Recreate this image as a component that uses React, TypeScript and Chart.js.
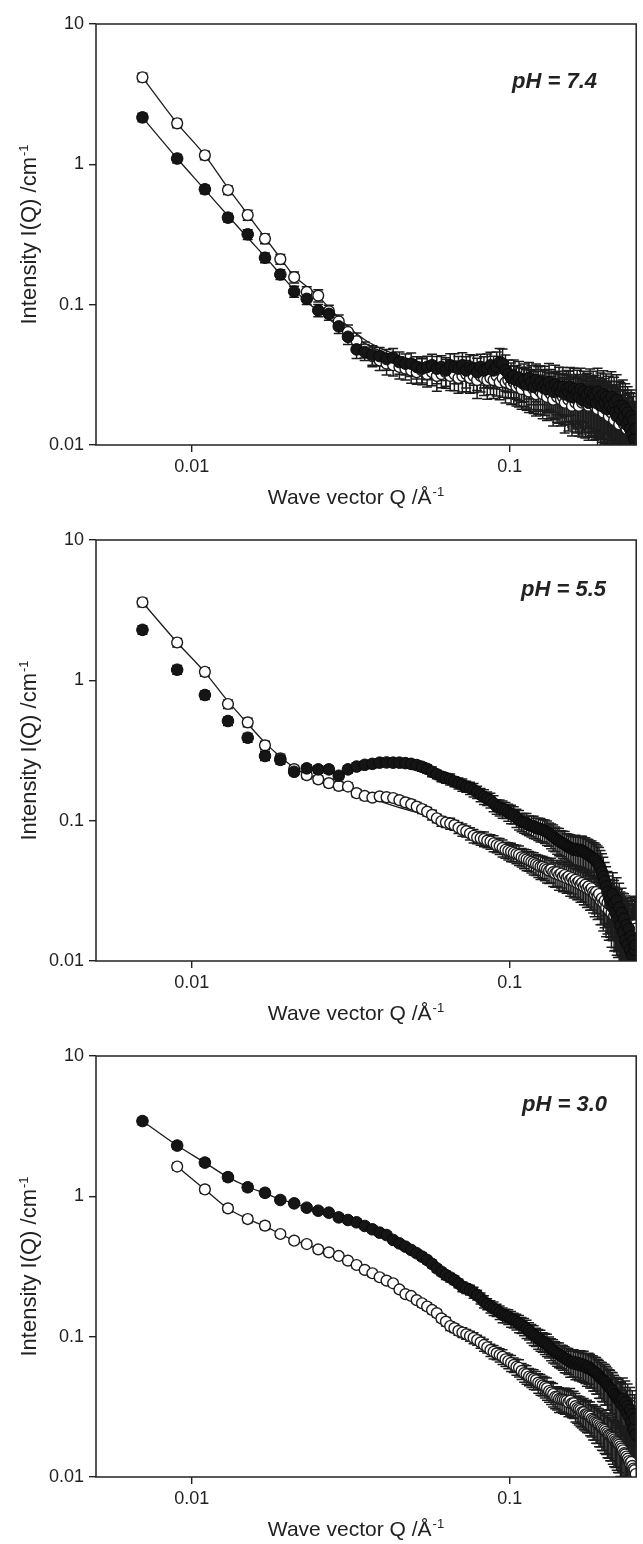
import React, { useEffect, useRef } from "react";
import { Chart, registerables } from "chart.js";

Chart.register(...registerables);

const FONT = "'Liberation Sans', Arial, Helvetica, sans-serif";
const INK = "#1c1c1c";

// ---------- axis / labels ----------
const X_TICKS = [0.01, 0.1];
const Y_TICKS = [0.01, 0.1, 1, 10];
const X_MIN = 0.005;
const X_MAX = 0.25;
const Y_MIN = 0.01;
const Y_MAX = 10;
const PH_LABELS = ["pH = 7.4", "pH = 5.5", "pH = 3.0"];
const X_TITLE = "Wave vector Q /Å";
const X_TITLE_SUP = "-1";
const Y_TITLE = "Intensity I(Q) /cm";
const Y_TITLE_SUP = "-1";

// ---------- wave vector Q (Å^-1) ----------
const Q = [
  0.007, 0.009, 0.011, 0.013, 0.015, 0.017, 0.019, 0.021, 0.023, 0.025,
  0.027, 0.029, 0.031, 0.033, 0.035, 0.037, 0.039, 0.041, 0.043, 0.045,
  0.047, 0.049, 0.051, 0.053, 0.055, 0.057, 0.059, 0.061, 0.063, 0.065,
  0.067, 0.069, 0.071, 0.073, 0.075, 0.077, 0.079, 0.081, 0.083, 0.085,
  0.087, 0.089, 0.091, 0.093, 0.095, 0.097, 0.099, 0.101, 0.103, 0.105,
  0.107, 0.109, 0.111, 0.113, 0.115, 0.117, 0.119, 0.121, 0.123, 0.125,
  0.127, 0.129, 0.131, 0.133, 0.135, 0.137, 0.139, 0.141, 0.143, 0.145,
  0.147, 0.149, 0.151, 0.153, 0.155, 0.157, 0.159, 0.161, 0.163, 0.165,
  0.167, 0.169, 0.171, 0.173, 0.175, 0.177, 0.179, 0.181, 0.183, 0.185,
  0.187, 0.189, 0.191, 0.193, 0.195, 0.197, 0.199, 0.201, 0.203, 0.205,
  0.207, 0.209, 0.211, 0.213, 0.215, 0.217, 0.219, 0.221, 0.223, 0.225,
  0.227, 0.229, 0.231, 0.233, 0.235, 0.237, 0.239, 0.241, 0.243, 0.245,
  0.247, 0.249,
];

// ---------- pH 7.4 ----------
const PH74_FILLED = [
  2.16, 1.10, 0.664, 0.417, 0.317, 0.216, 0.164, 0.124, 0.110, 0.091,
  0.086, 0.070, 0.059, 0.048, 0.046, 0.044, 0.043, 0.041, 0.042, 0.039,
  0.038, 0.038, 0.036, 0.035, 0.036, 0.037, 0.035, 0.036, 0.034, 0.037,
  0.036, 0.035, 0.037, 0.034, 0.036, 0.035, 0.033, 0.036, 0.034, 0.035,
  0.037, 0.034, 0.036, 0.039, 0.038, 0.034, 0.032, 0.030, 0.031, 0.029,
  0.030, 0.028, 0.029, 0.027, 0.030, 0.028, 0.026, 0.029, 0.027, 0.028,
  0.026, 0.027, 0.025, 0.028, 0.026, 0.024, 0.027, 0.025, 0.026, 0.024,
  0.026, 0.023, 0.025, 0.024, 0.026, 0.022, 0.025, 0.023, 0.024, 0.022,
  0.025, 0.021, 0.024, 0.022, 0.023, 0.020, 0.024, 0.021, 0.023, 0.022,
  0.020, 0.024, 0.021, 0.022, 0.019, 0.023, 0.020, 0.022, 0.018, 0.021,
  0.019, 0.022, 0.018, 0.020, 0.017, 0.021, 0.016, 0.019, 0.018, 0.015,
  0.019, 0.016, 0.018, 0.014, 0.017, 0.015, 0.013, 0.016, 0.012, 0.015,
  0.011, 0.013,
];
const PH74_OPEN = [
  4.17, 1.96, 1.16, 0.656, 0.435, 0.295, 0.211, 0.157, 0.123, 0.116,
  0.090, 0.076, 0.064, 0.055, 0.048, 0.043, 0.040, 0.038, 0.037, 0.036,
  0.035, 0.034, 0.033, 0.034, 0.032, 0.033, 0.031, 0.032, 0.033, 0.031,
  0.032, 0.030, 0.031, 0.032, 0.030, 0.031, 0.029, 0.031, 0.030, 0.029,
  0.030, 0.029, 0.031, 0.028, 0.030, 0.028, 0.029, 0.027, 0.028, 0.026,
  0.027, 0.025, 0.027, 0.026, 0.024, 0.026, 0.025, 0.023, 0.025, 0.024,
  0.023, 0.025, 0.022, 0.024, 0.023, 0.021, 0.024, 0.022, 0.023, 0.021,
  0.022, 0.020, 0.023, 0.021, 0.022, 0.019, 0.022, 0.020, 0.021, 0.019,
  0.022, 0.020, 0.021, 0.020, 0.022, 0.019, 0.021, 0.020, 0.021, 0.019,
  0.020, 0.018, 0.020, 0.019, 0.020, 0.017, 0.019, 0.018, 0.019, 0.016,
  0.019, 0.017, 0.018, 0.015, 0.018, 0.016, 0.017, 0.014, 0.016, 0.015,
  0.016, 0.014, 0.015, 0.013, 0.016, 0.014, 0.015, 0.012, 0.014, 0.012,
  0.013, 0.0105,
];
const PH74_ERR = [
  0.07, 0.07, 0.07, 0.07, 0.08, 0.08, 0.08, 0.09, 0.09, 0.10,
  0.10, 0.11, 0.12, 0.14, 0.13, 0.16, 0.15, 0.17, 0.16, 0.18,
  0.17, 0.19, 0.18, 0.21, 0.19, 0.20, 0.22, 0.20, 0.23, 0.21,
  0.24, 0.22, 0.23, 0.25, 0.22, 0.24, 0.26, 0.23, 0.25, 0.27,
  0.24, 0.26, 0.28, 0.25, 0.27, 0.29, 0.26, 0.28, 0.30, 0.27,
  0.31, 0.28, 0.30, 0.32, 0.29, 0.31, 0.33, 0.30, 0.34, 0.31,
  0.33, 0.35, 0.32, 0.36, 0.33, 0.35, 0.37, 0.34, 0.38, 0.35,
  0.37, 0.39, 0.36, 0.40, 0.37, 0.39, 0.41, 0.38, 0.42, 0.39,
  0.41, 0.43, 0.40, 0.44, 0.41, 0.43, 0.45, 0.42, 0.46, 0.43,
  0.45, 0.47, 0.44, 0.48, 0.45, 0.47, 0.49, 0.46, 0.50, 0.47,
  0.49, 0.51, 0.48, 0.52, 0.49, 0.51, 0.53, 0.50, 0.54, 0.51,
  0.53, 0.55, 0.52, 0.56, 0.53, 0.55, 0.57, 0.54, 0.58, 0.55,
  0.56, 0.57,
];
const PH74_FIT_Q = [
  0.007, 0.009, 0.011, 0.013, 0.015, 0.017, 0.019, 0.021, 0.023, 0.025,
  0.027, 0.030, 0.033, 0.036, 0.040, 0.045, 0.050, 0.060, 0.070, 0.080,
  0.100, 0.120, 0.150, 0.200, 0.249,
];
const PH74_FIT_OPEN = [
  4.17, 1.96, 1.16, 0.68, 0.44, 0.30, 0.215, 0.16, 0.135, 0.115,
  0.095, 0.075, 0.062, 0.054, 0.048, 0.043, 0.039, 0.033, 0.029, 0.027,
  0.024, 0.0225, 0.021, 0.020, 0.019,
];
const PH74_FIT_FILLED = [
  2.16, 1.10, 0.66, 0.43, 0.30, 0.22, 0.165, 0.128, 0.105, 0.090,
  0.079, 0.066, 0.057, 0.051, 0.046, 0.042, 0.038, 0.033, 0.030, 0.028,
  0.025, 0.023, 0.0215, 0.0205, 0.0195,
];

// ---------- pH 5.5 ----------
const PH55_FILLED = [
  2.29, 1.19, 0.786, 0.513, 0.390, 0.289, 0.271, 0.223, 0.236, 0.232,
  0.232, 0.209, 0.232, 0.243, 0.250, 0.254, 0.259, 0.260, 0.259, 0.259,
  0.257, 0.254, 0.249, 0.242, 0.234, 0.223, 0.214, 0.206, 0.201, 0.197,
  0.190, 0.185, 0.180, 0.175, 0.171, 0.166, 0.160, 0.153, 0.148, 0.144,
  0.140, 0.133, 0.126, 0.124, 0.121, 0.119, 0.115, 0.112, 0.110, 0.105,
  0.102, 0.098, 0.097, 0.096, 0.093, 0.092, 0.091, 0.089, 0.088, 0.087,
  0.086, 0.085, 0.083, 0.081, 0.079, 0.077, 0.075, 0.073, 0.072, 0.070,
  0.069, 0.068, 0.066, 0.065, 0.064, 0.063, 0.062, 0.063, 0.062, 0.061,
  0.062, 0.061, 0.060, 0.059, 0.058, 0.057, 0.056, 0.055, 0.054, 0.053,
  0.052, 0.050, 0.048, 0.046, 0.043, 0.040, 0.037, 0.034, 0.031, 0.029,
  0.027, 0.025, 0.030, 0.026, 0.022, 0.027, 0.020, 0.024, 0.018, 0.022,
  0.016, 0.020, 0.014, 0.018, 0.013, 0.017, 0.012, 0.015, 0.011, 0.014,
  0.012, 0.013,
];
const PH55_OPEN = [
  3.60, 1.86, 1.15, 0.678, 0.502, 0.344, 0.278, 0.233, 0.211, 0.197,
  0.185, 0.177, 0.175, 0.157, 0.150, 0.146, 0.149, 0.147, 0.145, 0.140,
  0.135, 0.131, 0.126, 0.121, 0.116, 0.110, 0.104, 0.099, 0.097, 0.0955,
  0.093, 0.089, 0.086, 0.084, 0.081, 0.078, 0.076, 0.075, 0.074, 0.072,
  0.071, 0.069, 0.067, 0.066, 0.064, 0.062, 0.061, 0.060, 0.059, 0.058,
  0.057, 0.055, 0.054, 0.053, 0.052, 0.051, 0.050, 0.049, 0.048, 0.047,
  0.047, 0.046, 0.045, 0.044, 0.045, 0.043, 0.042, 0.043, 0.041, 0.042,
  0.040, 0.041, 0.039, 0.040, 0.038, 0.039, 0.037, 0.038, 0.036, 0.037,
  0.035, 0.036, 0.034, 0.035, 0.033, 0.034, 0.032, 0.033, 0.031, 0.030,
  0.031, 0.029, 0.030, 0.027, 0.028, 0.026, 0.027, 0.024, 0.026, 0.023,
  0.025, 0.022, 0.024, 0.021, 0.023, 0.020, 0.022, 0.019, 0.021, 0.018,
  0.020, 0.017, 0.019, 0.016, 0.018, 0.017, 0.016, 0.018, 0.017, 0.016,
  0.018, 0.017,
];
const PH55_ERR = [
  0.07, 0.07, 0.07, 0.07, 0.07, 0.07, 0.07, 0.06, 0.06, 0.06,
  0.06, 0.06, 0.06, 0.06, 0.06, 0.06, 0.06, 0.06, 0.06, 0.06,
  0.07, 0.07, 0.07, 0.07, 0.07, 0.08, 0.07, 0.08, 0.08, 0.09,
  0.08, 0.09, 0.10, 0.09, 0.10, 0.11, 0.10, 0.11, 0.12, 0.11,
  0.12, 0.13, 0.12, 0.13, 0.14, 0.13, 0.14, 0.15, 0.14, 0.15,
  0.16, 0.15, 0.16, 0.17, 0.16, 0.17, 0.18, 0.17, 0.18, 0.19,
  0.18, 0.19, 0.20, 0.19, 0.20, 0.21, 0.20, 0.21, 0.22, 0.21,
  0.22, 0.23, 0.22, 0.23, 0.24, 0.23, 0.24, 0.25, 0.24, 0.26,
  0.25, 0.27, 0.26, 0.28, 0.27, 0.29, 0.28, 0.30, 0.29, 0.31,
  0.30, 0.32, 0.34, 0.33, 0.35, 0.37, 0.36, 0.38, 0.40, 0.39,
  0.41, 0.43, 0.42, 0.44, 0.46, 0.45, 0.47, 0.49, 0.48, 0.50,
  0.52, 0.51, 0.53, 0.55, 0.54, 0.56, 0.58, 0.57, 0.59, 0.60,
  0.61, 0.62,
];
const PH55_FIT_Q = [
  0.007, 0.009, 0.011, 0.013, 0.015, 0.017, 0.019, 0.021, 0.023, 0.025,
  0.030, 0.035, 0.040, 0.045, 0.050, 0.055,
];
const PH55_FIT_OPEN = [
  3.60, 1.86, 1.14, 0.71, 0.49, 0.36, 0.285, 0.238, 0.213, 0.198,
  0.172, 0.150, 0.135, 0.124, 0.116, 0.109,
];

// ---------- pH 3.0 ----------
const PH30_FILLED = [
  3.44, 2.30, 1.74, 1.37, 1.16, 1.06, 0.942, 0.891, 0.830, 0.790,
  0.765, 0.708, 0.678, 0.653, 0.615, 0.582, 0.551, 0.530, 0.489, 0.462,
  0.438, 0.415, 0.393, 0.372, 0.352, 0.330, 0.307, 0.290, 0.275, 0.264,
  0.253, 0.240, 0.227, 0.221, 0.215, 0.206, 0.198, 0.188, 0.178, 0.171,
  0.164, 0.159, 0.155, 0.149, 0.143, 0.141, 0.139, 0.134, 0.131, 0.128,
  0.124, 0.121, 0.118, 0.114, 0.110, 0.106, 0.103, 0.100, 0.097, 0.095,
  0.092, 0.090, 0.088, 0.085, 0.082, 0.080, 0.078, 0.076, 0.075, 0.073,
  0.072, 0.070, 0.069, 0.068, 0.066, 0.065, 0.066, 0.064, 0.065, 0.063,
  0.064, 0.062, 0.063, 0.061, 0.060, 0.061, 0.059, 0.058, 0.057, 0.056,
  0.055, 0.054, 0.052, 0.051, 0.050, 0.049, 0.048, 0.047, 0.045, 0.044,
  0.043, 0.042, 0.041, 0.039, 0.038, 0.037, 0.036, 0.035, 0.034, 0.033,
  0.036, 0.031, 0.034, 0.029, 0.032, 0.027, 0.030, 0.025, 0.028, 0.022,
  0.026, 0.020,
];
const PH30_OPEN = [
  null, 1.63, 1.12, 0.821, 0.689, 0.618, 0.539, 0.483, 0.457, 0.419,
  0.399, 0.376, 0.348, 0.324, 0.299, 0.283, 0.265, 0.251, 0.240, 0.217,
  0.201, 0.195, 0.182, 0.173, 0.164, 0.155, 0.147, 0.135, 0.128, 0.119,
  0.115, 0.110, 0.107, 0.104, 0.101, 0.098, 0.0946, 0.091, 0.0873, 0.084,
  0.0804, 0.078, 0.076, 0.074, 0.072, 0.069, 0.067, 0.065, 0.063, 0.061,
  0.060, 0.057, 0.055, 0.054, 0.052, 0.051, 0.050, 0.049, 0.047, 0.046,
  0.045, 0.044, 0.043, 0.041, 0.040, 0.039, 0.0373, 0.037, 0.036, 0.0358,
  0.0356, 0.0354, 0.035, 0.034, 0.035, 0.0335, 0.0335, 0.032, 0.031, 0.0305,
  0.030, 0.029, 0.029, 0.028, 0.028, 0.0275, 0.027, 0.026, 0.0255, 0.025,
  0.0245, 0.0241, 0.0235, 0.023, 0.0225, 0.022, 0.0216, 0.021, 0.0205, 0.020,
  0.0198, 0.0194, 0.019, 0.0185, 0.018, 0.0177, 0.0174, 0.017, 0.0165, 0.016,
  0.0155, 0.0148, 0.0145, 0.014, 0.0135, 0.013, 0.0125, 0.0128, 0.012, 0.0115,
  0.0112, 0.0105,
];
const PH30_ERR = [
  0.06, 0.06, 0.06, 0.06, 0.06, 0.06, 0.05, 0.05, 0.05, 0.05,
  0.05, 0.05, 0.05, 0.05, 0.05, 0.05, 0.05, 0.05, 0.05, 0.05,
  0.05, 0.05, 0.05, 0.06, 0.06, 0.06, 0.06, 0.06, 0.07, 0.07,
  0.07, 0.07, 0.08, 0.08, 0.08, 0.09, 0.08, 0.09, 0.10, 0.09,
  0.10, 0.11, 0.10, 0.11, 0.12, 0.11, 0.12, 0.13, 0.12, 0.13,
  0.14, 0.13, 0.14, 0.15, 0.14, 0.15, 0.16, 0.15, 0.16, 0.17,
  0.16, 0.17, 0.18, 0.17, 0.18, 0.19, 0.18, 0.19, 0.20, 0.19,
  0.20, 0.21, 0.20, 0.21, 0.22, 0.21, 0.22, 0.23, 0.22, 0.23,
  0.24, 0.23, 0.25, 0.24, 0.26, 0.25, 0.27, 0.26, 0.28, 0.27,
  0.29, 0.28, 0.30, 0.29, 0.31, 0.30, 0.32, 0.31, 0.33, 0.32,
  0.34, 0.33, 0.35, 0.36, 0.35, 0.37, 0.38, 0.37, 0.39, 0.40,
  0.41, 0.40, 0.42, 0.43, 0.44, 0.43, 0.45, 0.46, 0.47, 0.46,
  0.48, 0.49,
];
const PH30_FIT_FILLED_Q = [
  0.007, 0.009, 0.011, 0.013, 0.015, 0.017, 0.019, 0.021, 0.023, 0.025,
  0.027, 0.030, 0.035, 0.040, 0.045, 0.050, 0.060, 0.070, 0.080, 0.090,
  0.100, 0.120, 0.150, 0.200, 0.249,
];
const PH30_FIT_FILLED = [
  3.44, 2.30, 1.74, 1.37, 1.17, 1.05, 0.95, 0.89, 0.83, 0.79,
  0.76, 0.70, 0.61, 0.54, 0.47, 0.40, 0.30, 0.235, 0.19, 0.158,
  0.138, 0.102, 0.072, 0.049, 0.034,
];
const PH30_FIT_OPEN_Q = [
  0.009, 0.011, 0.013, 0.015, 0.017, 0.019, 0.021, 0.023, 0.025, 0.027,
  0.030, 0.035, 0.040, 0.045, 0.050, 0.060, 0.070, 0.080, 0.090, 0.100,
  0.120, 0.150, 0.200, 0.249,
];
const PH30_FIT_OPEN = [
  1.63, 1.12, 0.82, 0.69, 0.61, 0.54, 0.485, 0.455, 0.42, 0.40,
  0.36, 0.30, 0.255, 0.22, 0.185, 0.14, 0.112, 0.094, 0.078, 0.067,
  0.049, 0.0355, 0.0215, 0.0125,
];

// ---------- panel assembly (layout separate from data) ----------
type Fit = { q: number[]; v: number[] };
type PanelDef = {
  label: string;
  filled: (number | null)[];
  open: (number | null)[];
  err: number[];
  fits: Fit[];
  height: number;
  labelRight: number;
  labelBase: number;
};

const PANELS: PanelDef[] = [
  {
    label: PH_LABELS[0],
    filled: PH74_FILLED,
    open: PH74_OPEN,
    err: PH74_ERR,
    fits: [
      { q: PH74_FIT_Q, v: PH74_FIT_OPEN },
      { q: PH74_FIT_Q, v: PH74_FIT_FILLED },
    ],
    height: 516,
    labelRight: 597,
    labelBase: 88,
  },
  {
    label: PH_LABELS[1],
    filled: PH55_FILLED,
    open: PH55_OPEN,
    err: PH55_ERR,
    fits: [{ q: PH55_FIT_Q, v: PH55_FIT_OPEN }],
    height: 516,
    labelRight: 606,
    labelBase: 80,
  },
  {
    label: PH_LABELS[2],
    filled: PH30_FILLED,
    open: PH30_OPEN,
    err: PH30_ERR,
    fits: [
      { q: PH30_FIT_FILLED_Q, v: PH30_FIT_FILLED },
      { q: PH30_FIT_OPEN_Q, v: PH30_FIT_OPEN },
    ],
    height: 512,
    labelRight: 607,
    labelBase: 79,
  },
];

const PLOT_BOTTOM = 445;
const AXIS_LEFT_WIDTH = 96;

function drawSup(
  ctx: CanvasRenderingContext2D,
  main: string,
  sup: string,
  cx: number,
  baseY: number,
  size: number,
  supSize: number,
  raise: number
) {
  ctx.font = `${size}px ${FONT}`;
  const w1 = ctx.measureText(main).width;
  ctx.font = `${supSize}px ${FONT}`;
  const w2 = ctx.measureText(sup).width;
  const gap = 1;
  const x0 = cx - (w1 + gap + w2) / 2;
  ctx.textAlign = "left";
  ctx.textBaseline = "alphabetic";
  ctx.font = `${size}px ${FONT}`;
  ctx.fillText(main, x0, baseY);
  ctx.font = `${supSize}px ${FONT}`;
  ctx.fillText(sup, x0 + w1 + gap, baseY - raise);
}

function buildConfig(p: PanelDef): any {
  const toPoints = (arr: (number | null)[]) =>
    Q.map((q, i) => (arr[i] == null ? null : { x: q, y: arr[i] as number, idx: i })).filter(
      (d) => d !== null
    );

  const datasets: any[] = [];
  p.fits.forEach((f) => {
    datasets.push({
      data: f.q.map((q, i) => ({ x: q, y: f.v[i] })),
      showLine: true,
      pointRadius: 0,
      borderColor: INK,
      borderWidth: 1.3,
      cubicInterpolationMode: "monotone",
      order: 3,
    });
  });
  datasets.push({
    data: toPoints(p.open),
    showLine: false,
    pointRadius: 5.4,
    pointBorderWidth: 1.4,
    pointBackgroundColor: "#ffffff",
    pointBorderColor: INK,
    errRel: p.err,
    order: 2,
  });
  datasets.push({
    data: toPoints(p.filled),
    showLine: false,
    pointRadius: 5.8,
    pointBorderWidth: 1,
    pointBackgroundColor: "#151515",
    pointBorderColor: "#0a0a0a",
    errRel: p.err,
    order: 1,
  });

  const errorBars = {
    id: "errorBars",
    beforeDatasetsDraw(chart: any) {
      const { ctx, chartArea, scales } = chart;
      const ys = scales.y;
      ctx.save();
      ctx.beginPath();
      ctx.rect(chartArea.left, chartArea.top, chartArea.right - chartArea.left, chartArea.bottom - chartArea.top);
      ctx.clip();
      ctx.strokeStyle = INK;
      ctx.lineWidth = 1.5;
      chart.data.datasets.forEach((ds: any, di: number) => {
        if (!ds.errRel) return;
        const meta = chart.getDatasetMeta(di);
        meta.data.forEach((el: any, i: number) => {
          const raw = ds.data[i];
          const r = ds.errRel[raw.idx];
          const yTop = ys.getPixelForValue(raw.y * (1 + r));
          const yBot = ys.getPixelForValue(raw.y * (1 - r));
          const x = el.x;
          ctx.beginPath();
          ctx.moveTo(x, yTop);
          ctx.lineTo(x, yBot);
          ctx.moveTo(x - 5, yTop);
          ctx.lineTo(x + 5, yTop);
          ctx.moveTo(x - 5, yBot);
          ctx.lineTo(x + 5, yBot);
          ctx.stroke();
        });
      });
      ctx.restore();
    },
  };

  const decorations = {
    id: "decorations",
    afterDraw(chart: any) {
      const { ctx, chartArea } = chart;
      ctx.save();
      // frame
      ctx.strokeStyle = "#222";
      ctx.lineWidth = 1.5;
      ctx.strokeRect(
        chartArea.left,
        chartArea.top,
        chartArea.right - chartArea.left,
        chartArea.bottom - chartArea.top
      );
      ctx.fillStyle = "#222";
      // pH label
      ctx.font = `italic bold 22px ${FONT}`;
      ctx.textAlign = "right";
      ctx.textBaseline = "alphabetic";
      ctx.fillText(p.label, p.labelRight, p.labelBase);
      // x title
      drawSup(ctx, X_TITLE, X_TITLE_SUP, 356, chartArea.bottom + 59, 21, 13, 8);
      // y title (rotated)
      ctx.translate(36, (chartArea.top + chartArea.bottom) / 2);
      ctx.rotate(-Math.PI / 2);
      drawSup(ctx, Y_TITLE, Y_TITLE_SUP, 0, 0, 22, 13, 8);
      ctx.restore();
    },
  };

  return {
    type: "scatter",
    data: { datasets },
    plugins: [errorBars, decorations],
    options: {
      animation: false,
      responsive: false,
      devicePixelRatio: 1,
      events: [],
      layout: { padding: { top: 24, right: 4, bottom: 0, left: 0 } },
      plugins: {
        legend: { display: false },
        tooltip: { enabled: false },
        title: { display: false },
      },
      scales: {
        x: {
          type: "logarithmic",
          position: "bottom",
          min: X_MIN,
          max: X_MAX,
          afterBuildTicks: (s: any) => {
            s.ticks = X_TICKS.map((v) => ({ value: v }));
          },
          afterFit: (s: any) => {
            s.height = p.height - PLOT_BOTTOM;
          },
          ticks: {
            autoSkip: false,
            maxRotation: 0,
            minRotation: 0,
            padding: 4,
            color: "#222",
            font: { family: FONT, size: 18 },
            callback: (v: any) => String(v),
          },
          grid: {
            drawOnChartArea: false,
            drawTicks: true,
            tickLength: 7,
            color: "#222",
            lineWidth: 1.4,
          },
          border: { display: false },
        },
        y: {
          type: "logarithmic",
          position: "left",
          min: Y_MIN,
          max: Y_MAX,
          afterBuildTicks: (s: any) => {
            s.ticks = Y_TICKS.map((v) => ({ value: v }));
          },
          afterFit: (s: any) => {
            s.width = AXIS_LEFT_WIDTH;
          },
          ticks: {
            autoSkip: false,
            padding: 5,
            color: "#222",
            font: { family: FONT, size: 18 },
            callback: (v: any) => String(v),
          },
          grid: {
            drawOnChartArea: false,
            drawTicks: true,
            tickLength: 7,
            color: "#222",
            lineWidth: 1.4,
          },
          border: { display: false },
        },
      },
    },
  };
}

function Panel({ p }: { p: PanelDef }) {
  const ref = useRef<HTMLCanvasElement>(null);
  useEffect(() => {
    if (!ref.current) return;
    const chart = new Chart(ref.current, buildConfig(p));
    return () => chart.destroy();
  }, [p]);
  return (
    <canvas
      ref={ref}
      width={643}
      height={p.height}
      style={{ display: "block", width: 643, height: p.height }}
    />
  );
}

export default function App() {
  return (
    <div
      style={{
        position: "absolute",
        left: 0,
        top: 0,
        width: 643,
        height: 1544,
        background: "#ffffff",
        overflow: "hidden",
      }}
    >
      {PANELS.map((p, i) => (
        <Panel key={i} p={p} />
      ))}
    </div>
  );
}
